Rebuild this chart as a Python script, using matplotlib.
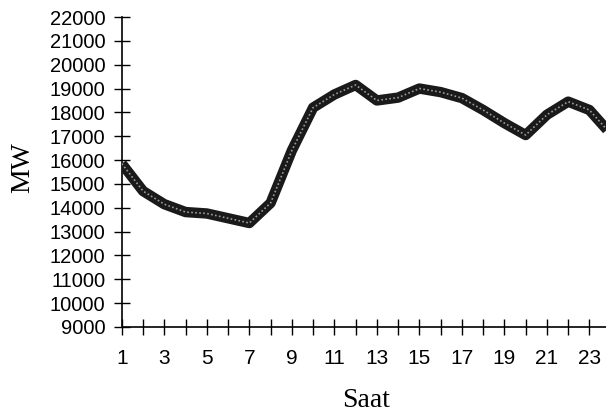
import matplotlib
matplotlib.use("Agg")
import matplotlib.pyplot as plt

hours = list(range(1, 25))
load_mw = [15850, 14700, 14150, 13820, 13760, 13560, 13360, 14200,
           16400, 18200, 18750, 19150, 18500, 18620, 19000, 18850,
           18600, 18100, 17550, 17050, 17900, 18450, 18100, 17100]
x_tick_labels = [str(h) if h % 2 == 1 else "" for h in range(1, 24)]
y_ticks = list(range(9000, 22001, 1000))

fig = plt.figure(figsize=(6.06, 4.19), dpi=100)
ax = fig.add_axes([0.201, 0.2196, 0.799, 0.7398])

ax.plot(hours, load_mw, color="#1a1a1a", lw=7.5, solid_capstyle="butt",
        solid_joinstyle="round", zorder=3)
ax.plot(hours, load_mw, color="#9a9a9a", lw=1.2, linestyle=(0, (1.0, 1.4)), zorder=4)

ax.set_xlim(1, 23.78)
ax.set_ylim(9000, 22000)
ax.set_xticks(list(range(1, 24)))
ax.set_xticklabels(x_tick_labels, fontsize=15, family="Liberation Sans")
ax.set_yticks(y_ticks)
ax.set_yticklabels([str(v) for v in y_ticks], fontsize=14.5, family="Liberation Sans")

for s in ["top", "right"]:
    ax.spines[s].set_visible(False)
for s in ["left", "bottom"]:
    ax.spines[s].set_linewidth(1.2)
    ax.spines[s].set_color("black")

ax.tick_params(axis="y", direction="inout", length=12, width=1, pad=6)
ax.tick_params(axis="x", direction="inout", length=11, width=1, pad=10)

fig.text(0.037, 0.60, "MW", rotation=90, fontsize=20, family="Liberation Serif",
         ha="center", va="center")
fig.text(0.604, 0.045, "Saat", fontsize=20, family="Liberation Serif",
         ha="center", va="center")

fig.savefig("out.png", dpi=100, facecolor="white")
